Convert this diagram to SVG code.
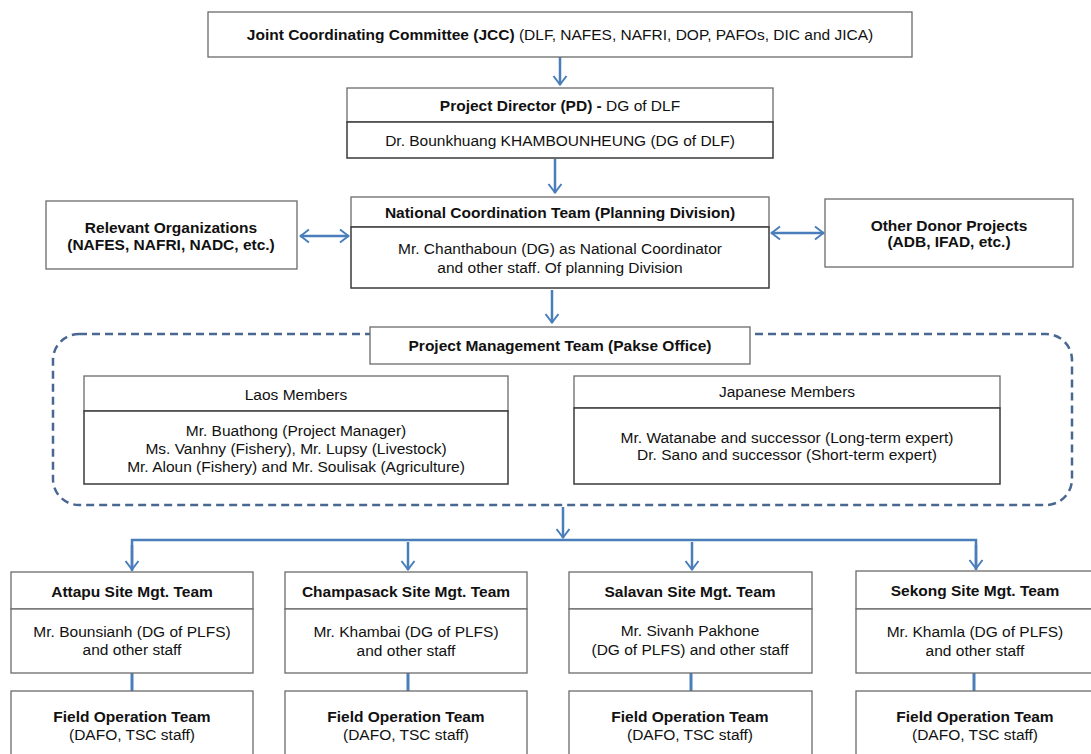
<svg xmlns="http://www.w3.org/2000/svg" width="1091" height="754" viewBox="0 0 1091 754">
<style>
text{font-family:"Liberation Sans",Arial,sans-serif;font-size:15.5px;fill:#111;text-anchor:middle}
.b{font-weight:bold}
.box{fill:#fff;stroke:#6b6b6b;stroke-width:1.3}
.dk{fill:#fff;stroke:#3a3a3a;stroke-width:1.5}
.con{fill:none;stroke:#4a7ebb;stroke-width:2.5}
.tie{fill:none;stroke:#4a7ebb;stroke-width:3}
</style>
<defs>
<marker id="ah" viewBox="0 0 12 16" refX="11" refY="8" markerWidth="12" markerHeight="16" markerUnits="userSpaceOnUse" orient="auto-start-reverse">
<path d="M2,1.5 L10.5,8 L2,14.5" fill="none" stroke="#4a7ebb" stroke-width="2"/>
</marker>
</defs>
<g id="pmt-frame">
<rect x="53" y="334" width="1019" height="171" rx="26" ry="26" fill="none" stroke="#4a6792" stroke-width="2.5" stroke-dasharray="8 5"/>
</g>
<g id="connectors">
<line class="con" x1="560" y1="57" x2="560" y2="85" marker-end="url(#ah)"/>
<line class="con" x1="555" y1="159" x2="555" y2="193" marker-end="url(#ah)"/>
<line class="con" x1="300" y1="236" x2="349" y2="236" marker-start="url(#ah)" marker-end="url(#ah)"/>
<line class="con" x1="771" y1="233" x2="824" y2="233" marker-start="url(#ah)" marker-end="url(#ah)"/>
<line class="con" x1="552" y1="290" x2="552" y2="323" marker-end="url(#ah)"/>
<line class="con" x1="563" y1="507" x2="563" y2="538" marker-end="url(#ah)"/>
<polyline class="con" points="132,571 132,540 976,540 976,570"/>
<line class="con" x1="132" y1="545" x2="132" y2="570" marker-end="url(#ah)"/>
<line class="con" x1="408" y1="542" x2="408" y2="570" marker-end="url(#ah)"/>
<line class="con" x1="692" y1="542" x2="692" y2="570" marker-end="url(#ah)"/>
<line class="con" x1="976" y1="545" x2="976" y2="569" marker-end="url(#ah)"/>
<line class="tie" x1="132" y1="673" x2="132" y2="691"/>
<line class="tie" x1="408" y1="673" x2="408" y2="691"/>
<line class="tie" x1="691" y1="673" x2="691" y2="691"/>
<line class="tie" x1="974" y1="673" x2="974" y2="691"/>
</g>
<g id="jcc">
<rect class="box" x="208" y="12" width="704" height="45"/>
<text x="560" y="40"><tspan class="b">Joint Coordinating Committee (JCC)</tspan> (DLF, NAFES, NAFRI, DOP, PAFOs, DIC and JICA)</text>
</g>
<g id="pd">
<rect class="box" x="347" y="88" width="426" height="34"/>
<rect class="dk" x="347" y="122" width="426" height="36"/>
<text x="560" y="111"><tspan class="b">Project Director (PD) -</tspan> DG of DLF</text>
<text x="560" y="146">Dr. Bounkhuang KHAMBOUNHEUNG (DG of DLF)</text>
</g>
<g id="relevant">
<rect class="box" x="46" y="201" width="251" height="68"/>
<text class="b" x="171" y="233">Relevant Organizations</text>
<text class="b" x="171" y="250">(NAFES, NAFRI, NADC, etc.)</text>
</g>
<g id="nct">
<rect class="box" x="351" y="197" width="418" height="30"/>
<rect class="dk" x="351" y="227" width="418" height="61"/>
<text class="b" x="560" y="218">National Coordination Team (Planning Division)</text>
<text x="560" y="254">Mr. Chanthaboun (DG) as National Coordinator</text>
<text x="560" y="273">and other staff. Of planning Division</text>
</g>
<g id="donor">
<rect class="box" x="825" y="199" width="248" height="68"/>
<text class="b" x="949" y="231">Other Donor Projects</text>
<text class="b" x="949" y="247">(ADB, IFAD, etc.)</text>
</g>
<g id="pmt">
<rect class="box" x="370" y="327" width="380" height="37"/>
<text class="b" x="560" y="351">Project Management Team (Pakse Office)</text>
</g>
<g id="laos">
<rect class="box" x="84" y="376" width="424" height="35"/>
<rect class="dk" x="84" y="411" width="424" height="73"/>
<text x="296" y="400">Laos Members</text>
<text x="296" y="436">Mr. Buathong (Project Manager)</text>
<text x="296" y="454">Ms. Vanhny (Fishery), Mr. Lupsy (Livestock)</text>
<text x="296" y="472">Mr. Aloun (Fishery) and Mr. Soulisak (Agriculture)</text>
</g>
<g id="japanese">
<rect class="box" x="574" y="376" width="426" height="32"/>
<rect class="dk" x="574" y="408" width="426" height="76"/>
<text x="787" y="397">Japanese Members</text>
<text x="787" y="443">Mr. Watanabe and successor (Long-term expert)</text>
<text x="787" y="460">Dr. Sano and successor (Short-term expert)</text>
</g>
<g id="attapu">
<rect class="box" x="11" y="572" width="242" height="37"/>
<rect class="box" x="11" y="609" width="242" height="64"/>
<text class="b" x="132" y="597">Attapu Site Mgt. Team</text>
<text x="132" y="637">Mr. Bounsianh (DG of PLFS)</text>
<text x="132" y="655">and other staff</text>
</g>
<g id="champasack">
<rect class="box" x="285" y="572" width="242" height="37"/>
<rect class="box" x="285" y="609" width="242" height="64"/>
<text class="b" x="406" y="597">Champasack Site Mgt. Team</text>
<text x="406" y="637">Mr. Khambai (DG of PLFS)</text>
<text x="406" y="656">and other staff</text>
</g>
<g id="salavan">
<rect class="box" x="569" y="572" width="243" height="37"/>
<rect class="box" x="569" y="609" width="243" height="64"/>
<text class="b" x="690" y="597">Salavan Site Mgt. Team</text>
<text x="690" y="636">Mr. Sivanh Pakhone</text>
<text x="690" y="655">(DG of PLFS) and other staff</text>
</g>
<g id="sekong">
<rect class="box" x="856" y="571" width="240" height="38"/>
<rect class="box" x="856" y="609" width="240" height="64"/>
<text class="b" x="975" y="596">Sekong Site Mgt. Team</text>
<text x="975" y="637">Mr. Khamla (DG of PLFS)</text>
<text x="975" y="656">and other staff</text>
</g>
<g id="field-attapu">
<rect class="box" x="11" y="691" width="242" height="70"/>
<text class="b" x="132" y="722">Field Operation Team</text>
<text x="132" y="740">(DAFO, TSC staff)</text>
</g>
<g id="field-champasack">
<rect class="box" x="285" y="691" width="242" height="70"/>
<text class="b" x="406" y="722">Field Operation Team</text>
<text x="406" y="740">(DAFO, TSC staff)</text>
</g>
<g id="field-salavan">
<rect class="box" x="569" y="691" width="243" height="70"/>
<text class="b" x="690" y="722">Field Operation Team</text>
<text x="690" y="740">(DAFO, TSC staff)</text>
</g>
<g id="field-sekong">
<rect class="box" x="856" y="691" width="240" height="70"/>
<text class="b" x="975" y="722">Field Operation Team</text>
<text x="975" y="740">(DAFO, TSC staff)</text>
</g>
</svg>
